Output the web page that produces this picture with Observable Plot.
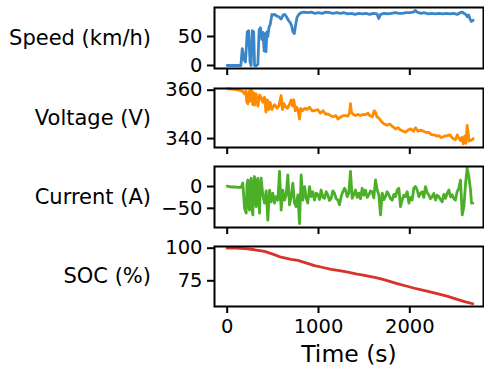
<!DOCTYPE html>
<html><head><meta charset="utf-8">
<script src="https://cdn.jsdelivr.net/npm/d3@7"></script>
<script src="https://cdn.jsdelivr.net/npm/@observablehq/plot@0.6"></script>
<style>
html,body{margin:0;padding:0;background:#fff;}
#chart{width:484px;height:369px;overflow:hidden;}
#chart svg{display:block;}
</style></head><body><div id="chart"></div>
<script>
// ---- Data ----
const speedT = [0,100,150,165,185,200,220,235,250,262,275,290,300,318,336,350,365,380,392,405,415,425,435,445,458,470,490,505,520,545,565,590,612,630,650,670,690,705,720,735,750,765,785,810,840,880,920,960,1000,1040,1080,1120,1160,1200,1240,1280,1320,1360,1400,1440,1480,1520,1560,1600,1640,1660,1680,1720,1760,1800,1840,1880,1920,1960,2000,2040,2062,2080,2120,2160,2200,2240,2280,2320,2360,2400,2440,2480,2520,2550,2575,2600,2615,2630,2645,2660,2675,2694];
const speedV = [0,0,0,29,10,6,58,60,6,0,60,58,0,0,2,62,65,45,57,25,55,24,58,50,66,70,88,87,88,85,84,80,87,88,84,78,74,69,58,55,70,83,88,91,92,91,92,90,91,90,92,91,90,91,90,91,89,90,88,90,89,90,88,90,89,81,88,90,89,90,91,90,90,91,91,92,95,92,90,91,89,90,89,90,89,90,89,90,88,91,92,89,88,84,87,80,76,78];

const voltT = [0,50,100,150,170,190,205,215,226,240,255,265,280,290,300,315,336,355,372,390,409,425,440,455,470,490,500,520,545,565,591,605,620,640,660,680,701,715,730,745,760,775,792,805,825,850,875,900,930,956,990,1020,1050,1080,1102,1130,1160,1190,1212,1240,1270,1300,1321,1340,1350,1360,1380,1405,1430,1460,1490,1515,1540,1560,1590,1610,1624,1640,1660,1680,1698,1720,1750,1780,1810,1843,1870,1900,1930,1953,1980,2010,2040,2062,2090,2120,2150,2180,2208,2240,2270,2300,2318,2340,2355,2380,2410,2440,2460,2480,2500,2520,2540,2555,2570,2585,2600,2615,2628,2640,2650,2665,2683,2694];
const voltV = [360.6,360.4,360.2,359.8,359.5,358.5,359.6,355,354.4,359.5,355.5,360,354,359,353.8,358.5,353.5,358,357,355,357.1,350.9,356,352,355,352,353,354,352.5,353.5,357.8,352,354.5,353,352.5,354,356,353.5,356,351.5,353,352,348.1,352.5,351.5,352.5,352,353,351.5,351.5,352,350.5,351.5,350,350.2,349.5,349,349.5,348.1,348.8,349.5,349.5,349.2,350.5,354.4,351,350,349.5,350,349.5,350,349.8,350.5,349.5,349,351.5,350.9,349,348.5,347.5,346.7,346,345.5,346,345,344,344.5,343.5,343,342.6,343.5,344,343,344.5,343,343.5,343,342.5,342.5,341.5,341.5,341,341.2,340.5,340.5,341,341.2,341.5,340.5,339.8,339.5,341.5,340,339.2,340.5,337.8,341,338,345.4,342,339,339.2,339.5,340];

const currT = [0,40,80,120,153,171,190,208,217,226,235,244,253,263,272,281,290,299,308,317,326,336,345,354,363,372,390,409,427,445,464,482,500,518,536,555,573,591,609,628,646,664,682,701,719,737,755,774,792,810,828,847,865,883,901,920,938,956,975,993,1011,1029,1048,1066,1084,1102,1120,1139,1157,1175,1193,1212,1230,1248,1266,1285,1296,1314,1332,1350,1369,1387,1405,1424,1442,1460,1478,1497,1515,1533,1551,1570,1588,1606,1624,1643,1661,1679,1698,1716,1734,1752,1771,1789,1807,1825,1843,1862,1880,1898,1916,1935,1953,1971,1990,2008,2026,2044,2062,2081,2099,2117,2135,2153,2172,2190,2208,2226,2245,2263,2282,2300,2318,2336,2355,2373,2391,2410,2428,2446,2464,2482,2500,2518,2537,2555,2574,2592,2611,2628,2646,2665,2676,2690];
const currV = [1,-1,-1,-2,-2,8,-50,-61,5,15,-40,-54,10,19,-50,-65,5,23,-20,-46,12,19,-30,-61,0,19,-20,-38,-10,-77,-8,-35,-15,-38,-23,-31,35,-54,-8,-31,-19,27,-42,-23,8,-38,-46,-19,-85,27,-31,0,-27,-38,0,-23,-12,-31,-15,-19,-30,-8,-25,-27,-12,-19,-32,-27,-10,-15,-28,-31,-42,-23,-12,-4,-8,-23,-15,35,-27,-18,-8,-25,-15,-28,-4,-20,-8,-25,-19,-10,-12,-26,15,-8,-19,-65,-15,-30,-23,-12,-19,-28,-31,-18,-23,-8,-4,-46,-31,-20,-23,-12,-38,-25,-31,-4,0,-8,-23,-15,-12,-25,0,-14,-19,-28,-23,-16,-31,-20,-23,-30,-35,-18,-27,-15,-8,-24,-19,-28,-31,-12,-4,15,-65,-46,8,42,23,-8,-38,-38];

const socT = [0,100,226,300,409,500,591,700,774,860,956,1050,1139,1230,1321,1410,1504,1600,1686,1780,1869,1960,2051,2140,2234,2320,2416,2510,2599,2690];
const socV = [100,100,99.5,98.8,97.5,95.5,93.1,91.5,90.6,88.8,86.7,85.2,83.7,82.8,81.6,80.3,79.1,77.8,76.5,74.5,72.7,71,69.3,67.8,66.3,64.8,63,61,59.1,57.4];

const labels = ["Speed (km/h)", "Voltage (V)", "Current (A)", "SOC (%)"];
const colors = ["#3a86c8", "#ff8c00", "#4caf28", "#d8322a"];
const xTicks = [0, 1000, 2000];
const xLabel = "Time (s)";

// ---- Drawing ----
const FONT = "DejaVu Sans";
const xDomain = [-139, 2807];

function panel({t, v, color, yDomain, yTicks, label, height, mt, mb, last}) {
  const data = t.map((d, i) => ({t: d, v: v[i]}));
  const marks = [
    Plot.line(data, {x: "t", y: "v", stroke: color, strokeWidth: 2.8}),
    Plot.axisY({ticks: yTicks, tickSize: 7, tickPadding: 5, strokeWidth: 2, fontSize: 19.5, label: null, tickFormat: d3.format("d")}),
    Plot.axisX({ticks: xTicks, tickSize: 7, tickPadding: 6, strokeWidth: 2, fontSize: 19.5, label: null,
      tickFormat: last ? (d => String(d)) : (() => "")}),
    Plot.frame({stroke: "black", strokeWidth: 2}),
    Plot.text([label], {text: d => d, frameAnchor: "left", dx: -63.5, textAnchor: "end", fontSize: 21})
  ];
  if (last) marks.push(Plot.text([xLabel], {text: d => d, frameAnchor: "bottom", dy: 55, lineAnchor: "bottom", fontSize: 23.5}));
  return Plot.plot({
    width: 484, height, marginLeft: 214, marginRight: 1, marginTop: mt, marginBottom: mb,
    x: {domain: xDomain}, y: {domain: yDomain},
    style: {fontFamily: FONT, background: "white", color: "black", overflow: "visible"},
    marks
  });
}

const chart = document.getElementById("chart");
chart.append(panel({t: speedT, v: speedV, color: colors[0], yDomain: [-5.2, 100], yTicks: [0, 50], label: labels[0], height: 78, mt: 7, mb: 10}));
chart.append(panel({t: voltT, v: voltV, color: colors[1], yDomain: [336.3, 360.7], yTicks: [340, 360], label: labels[1], height: 79, mt: 10, mb: 10}));
chart.append(panel({t: currT, v: currV, color: colors[2], yDomain: [-94, 46], yTicks: [-50, 0], label: labels[2], height: 79, mt: 9, mb: 9}));
chart.append(panel({t: socT, v: socV, color: colors[3], yDomain: [55.3, 101.3], yTicks: [75, 100], label: labels[3], height: 133, mt: 10, mb: 63, last: true}));
</script></body></html>
